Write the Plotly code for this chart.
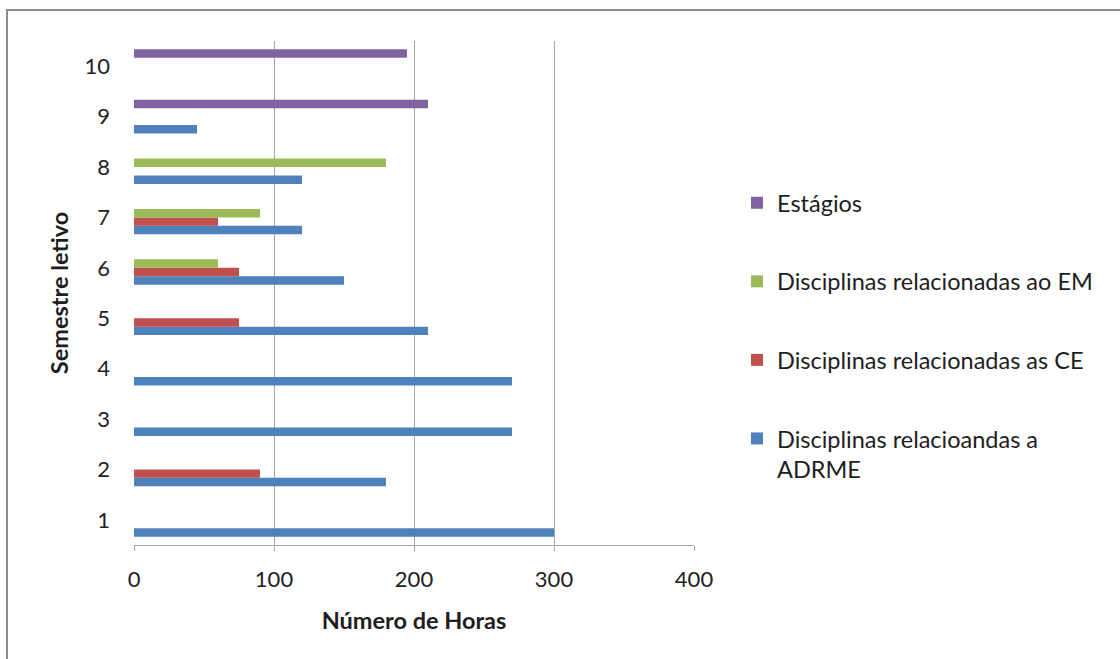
import plotly.graph_objects as go

semestres = ["1", "2", "3", "4", "5", "6", "7", "8", "9", "10"]
adrme = [300, 180, 270, 270, 210, 150, 120, 120, 45, None]
ce = [None, 90, None, None, 75, 75, 60, None, None, None]
em = [None, None, None, None, None, 60, 90, 180, None, None]
estagios = [None, None, None, None, None, None, None, None, 210, 195]

series = [
    ("Disciplinas relacioandas a<br>ADRME", adrme, "#4F81BD", 4),
    ("Disciplinas relacionadas as CE", ce, "#C0504D", 3),
    ("Disciplinas relacionadas ao EM", em, "#9BBB59", 2),
    ("Estágios", estagios, "#8064A2", 1),
]

FONT = "Lato"
fig = go.Figure()
for i, (name, vals, color, rank) in enumerate(series):
    fig.add_trace(go.Bar(
        y=semestres, x=vals, name=name, orientation="h",
        marker=dict(color=color, line=dict(width=0)),
        legendgroup=f"g{i}", legendrank=rank,
    ))

W, H = 1120, 659
L, R, T, B = 134, W - 694, 41, H - 545
pw, ph = W - L - R, H - T - B

def px_x(px):
    return (px - L) / pw

def px_y(py):
    return (H - B - py) / ph

fig.update_layout(
    width=W, height=H,
    margin=dict(l=L, r=R, t=T, b=B),
    paper_bgcolor="white", plot_bgcolor="white",
    font=dict(family=FONT, size=22, color="#1e1e1e"),
    barmode="group", bargap=0.33, bargroupgap=0,
    showlegend=True,
    legend=dict(
        traceorder="grouped", tracegroupgap=45,
        x=px_x(737), xanchor="left", y=px_y(181), yanchor="top",
        font=dict(family=FONT, size=23.5, color="#1e1e1e"),
        valign="top", bgcolor="rgba(0,0,0,0)",
    ),
    xaxis=dict(
        range=[0, 400], tickvals=[0, 100, 200, 300, 400],
        showgrid=True, gridcolor="#a6a6a6", gridwidth=1,
        showline=True, linecolor="#a6a6a6", linewidth=1,
        ticks="outside", tickcolor="#a6a6a6", ticklen=5,
        ticklabelstandoff=10, zeroline=False,
        title=dict(text="<b>Número de Horas</b>", font=dict(family=FONT, size=23.5), standoff=21),
        fixedrange=True,
    ),
    yaxis=dict(
        type="category", categoryorder="array", categoryarray=semestres,
        showgrid=False, showline=False, ticks="",
        ticklabelstandoff=23,
        title=dict(text="<b>Semestre letivo</b>", font=dict(family=FONT, size=23.5), standoff=9),
        fixedrange=True,
    ),
    shapes=[dict(
        type="rect", xref="paper", yref="paper",
        x0=px_x(7), x1=px_x(1140), y0=px_y(680), y1=px_y(10),
        line=dict(color="#8c8c8c", width=2), fillcolor="rgba(0,0,0,0)", layer="below",
    )],
)

fig.write_html("out.html")
